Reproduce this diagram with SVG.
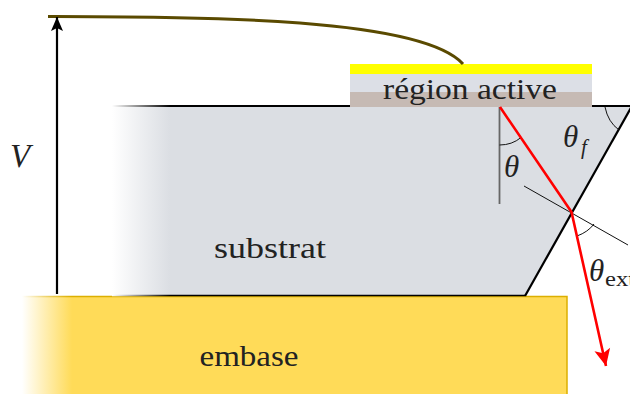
<svg xmlns="http://www.w3.org/2000/svg" width="630" height="394" viewBox="0 0 630 394">
<style>
text{font-family:"Liberation Serif","Times New Roman",serif;fill:#222}
.m{font-style:italic}
.lbl{font-size:30px}
.th{font-size:31px}
.thin{fill:none;stroke:#111;stroke-width:1}
</style>
<defs>
<linearGradient id="gs" gradientUnits="userSpaceOnUse" x1="112" y1="0" x2="170" y2="0"><stop offset="0" stop-color="#dbdee3" stop-opacity="0"/><stop offset="1" stop-color="#dbdee3"/></linearGradient>
<linearGradient id="gsl" gradientUnits="userSpaceOnUse" x1="112" y1="0" x2="170" y2="0"><stop offset="0" stop-color="#fff"/><stop offset="1" stop-color="#000"/></linearGradient>
<linearGradient id="ge" gradientUnits="userSpaceOnUse" x1="22" y1="0" x2="72" y2="0"><stop offset="0" stop-color="#ffdb58" stop-opacity="0"/><stop offset="1" stop-color="#ffdb58"/></linearGradient>
<linearGradient id="gel" gradientUnits="userSpaceOnUse" x1="22" y1="0" x2="72" y2="0"><stop offset="0" stop-color="#dcaf00" stop-opacity="0"/><stop offset="1" stop-color="#dcaf00"/></linearGradient>
<marker id="ab" markerUnits="userSpaceOnUse" markerWidth="14" markerHeight="14" refX="14" refY="6" orient="auto" overflow="visible"><path d="M0 0L14 6L0 12L3 6Z" fill="#000"/></marker>
<marker id="ar" markerUnits="userSpaceOnUse" markerWidth="18" markerHeight="16" refX="17" refY="8" orient="auto" overflow="visible"><path d="M0 0L17 8L0 16L4 8Z" fill="#f00"/></marker>
</defs>
<g id="embase">
<rect x="22" y="296.500" width="545" height="98" fill="url(#ge)"/>
<path d="M22 296.500H567V394" fill="none" stroke="url(#gel)" stroke-width="1.500"/>
<text x="249" y="366" class="lbl" text-anchor="middle" textLength="99" lengthAdjust="spacingAndGlyphs">embase</text>
</g>
<g id="substrat">
<path d="M112 106H632L525 296H112Z" fill="url(#gs)"/>
<path d="M112 295.500H525" fill="none" stroke="url(#gsl)" stroke-width="1.500"/>
<path d="M525 296L632 106" fill="none" stroke="#000" stroke-width="2.200"/>
<path d="M112 106H630" fill="none" stroke="url(#gsl)" stroke-width="2"/>
<text x="270" y="258" class="lbl" text-anchor="middle" textLength="112" lengthAdjust="spacingAndGlyphs">substrat</text>
</g>
<g id="region-active">
<rect x="350" y="64" width="242" height="10" fill="#ffff00"/>
<rect x="350" y="74" width="242" height="18" fill="#dcdfe6"/>
<rect x="350" y="92" width="242" height="15" fill="#c6bab4"/>
<text x="470" y="99" class="lbl" text-anchor="middle" textLength="174" lengthAdjust="spacingAndGlyphs">région active</text>
</g>
<g id="connectors">
<path d="M48 16.500C200 17 420 17 463 64" fill="none" stroke="#5a4a00" stroke-width="3"/>
<path d="M57 294V17" fill="none" stroke="#000" stroke-width="2.200" marker-end="url(#ab)"/>
<path d="M499.500 107V204" fill="none" stroke="#666" stroke-width="1.800"/>
<path d="M524 186L628 245" class="thin"/>
<path d="M499.500 145Q512 145 521 137.500" class="thin"/>
<path d="M605 107Q608 122 619 130" class="thin"/>
<path d="M577 236Q588 232 594 224" class="thin"/>
<path d="M500 107L571.500 212L606 366" fill="none" stroke="#f00" stroke-width="2.600" stroke-linejoin="round" marker-end="url(#ar)"/>
</g>
<g id="labels">
<text x="10" y="167" class="m" font-size="33">V</text>
<text x="504" y="177" class="m th">θ</text>
<text x="563" y="147" class="m th">θ</text>
<text x="581" y="154" class="m" font-size="21">f</text>
<text x="589" y="281" class="m th">θ</text>
<text x="605" y="286" font-size="21" textLength="30" lengthAdjust="spacingAndGlyphs">ext</text>
</g>
</svg>
